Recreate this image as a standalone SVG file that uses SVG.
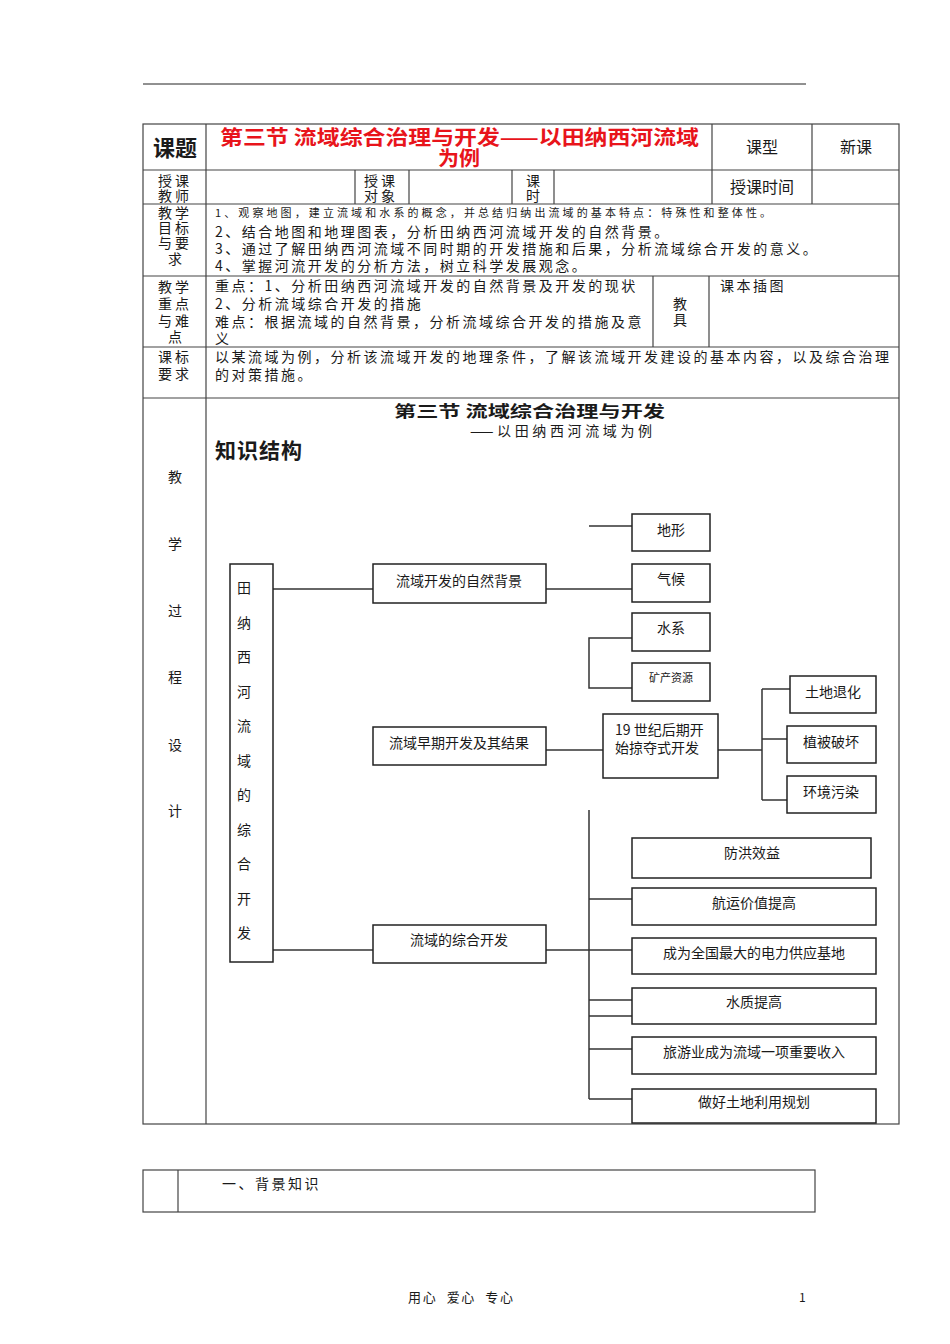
<svg xmlns="http://www.w3.org/2000/svg" width="950" height="1344" viewBox="0 0 950 1344">
<style>
text{font-family:"Noto Sans CJK SC","Liberation Sans",sans-serif;fill:#1a1a1a}
.tl{stroke:#444;stroke-width:1.2;fill:none}
.bx{fill:#fff;stroke:#222;stroke-width:1.5}
.cn{stroke:#333;stroke-width:1.5;fill:none}
.lab{font-size:14px;letter-spacing:3px}
.body{font-size:14px;letter-spacing:2.5px}
.nd{font-size:14px}
.ctr{text-anchor:middle}
</style>
<rect width="950" height="1344" fill="#fff"/>
<line x1="143" y1="84" x2="806" y2="84" stroke="#222" stroke-width="1"/>

<g id="header-table">
<rect class="tl" x="143" y="124" width="756" height="1000"/>
<line class="tl" x1="143" y1="170" x2="899" y2="170"/>
<line class="tl" x1="143" y1="204" x2="899" y2="204"/>
<line class="tl" x1="143" y1="276" x2="899" y2="276"/>
<line class="tl" x1="143" y1="347" x2="899" y2="347"/>
<line class="tl" x1="143" y1="398" x2="899" y2="398"/>
<line class="tl" x1="206" y1="124" x2="206" y2="1124"/>
<line class="tl" x1="712" y1="124" x2="712" y2="204"/>
<line class="tl" x1="812" y1="124" x2="812" y2="204"/>
<line class="tl" x1="355" y1="170" x2="355" y2="204"/>
<line class="tl" x1="409" y1="170" x2="409" y2="204"/>
<line class="tl" x1="512" y1="170" x2="512" y2="204"/>
<line class="tl" x1="554" y1="170" x2="554" y2="204"/>
<line class="tl" x1="653" y1="276" x2="653" y2="347"/>
<line class="tl" x1="709" y1="276" x2="709" y2="347"/>

<text x="153" y="156" font-size="22" font-weight="bold" textLength="44" lengthAdjust="spacingAndGlyphs">课题</text>
<text x="220" y="145" font-size="20" font-weight="bold" style="fill:#e8141b" textLength="479" lengthAdjust="spacingAndGlyphs">第三节  流域综合治理与开发——以田纳西河流域</text>
<text x="438" y="166" font-size="20" font-weight="bold" style="fill:#e8141b" textLength="42" lengthAdjust="spacingAndGlyphs">为例</text>
<text x="762" y="153" class="ctr" font-size="16">课型</text>
<text x="856" y="153" class="ctr" font-size="16">新课</text>

<text x="158" y="186" class="lab">授课</text>
<text x="158" y="201" class="lab">教师</text>
<text x="364" y="186" class="lab">授课</text>
<text x="364" y="201" class="lab">对象</text>
<text x="526" y="186" class="lab">课</text>
<text x="526" y="201" class="lab">时</text>
<text x="762" y="193" class="ctr" font-size="16">授课时间</text>

<text x="158" y="218" class="lab">教学</text>
<text x="158" y="233" class="lab">目标</text>
<text x="158" y="248" class="lab">与要</text>
<text x="168" y="264" class="lab">求</text>
<text x="215" y="217" font-size="11" letter-spacing="3.1">1、观察地图，建立流域和水系的概念，并总结归纳出流域的基本特点：特殊性和整体性。</text>
<text x="215" y="237" class="body">2、结合地图和地理图表，分析田纳西河流域开发的自然背景。</text>
<text x="215" y="254" class="body">3、通过了解田纳西河流域不同时期的开发措施和后果，分析流域综合开发的意义。</text>
<text x="215" y="271" class="body">4、掌握河流开发的分析方法，树立科学发展观念。</text>

<text x="158" y="292" class="lab">教学</text>
<text x="158" y="309" class="lab">重点</text>
<text x="158" y="326" class="lab">与难</text>
<text x="168" y="342" class="lab">点</text>
<text x="215" y="291" class="body">重点：1、分析田纳西河流域开发的自然背景及开发的现状</text>
<text x="215" y="309" class="body">2、分析流域综合开发的措施</text>
<text x="215" y="327" class="body">难点：根据流域的自然背景，分析流域综合开发的措施及意</text>
<text x="215" y="344" class="body">义</text>
<text x="673" y="309" class="lab">教</text>
<text x="673" y="325" class="lab">具</text>
<text x="720" y="291" class="body">课本插图</text>

<text x="158" y="362" class="lab">课标</text>
<text x="158" y="379" class="lab">要求</text>
<text x="215" y="362" class="body">以某流域为例，分析该流域开发的地理条件，了解该流域开发建设的基本内容，以及综合治理</text>
<text x="215" y="380" class="body">的对策措施。</text>

<text x="168" y="482" class="lab">教</text>
<text x="168" y="549" class="lab">学</text>
<text x="168" y="616" class="lab">过</text>
<text x="168" y="682" class="lab">程</text>
<text x="168" y="750" class="lab">设</text>
<text x="168" y="816" class="lab">计</text>

<text x="394" y="417" font-size="16" font-weight="bold" textLength="271" lengthAdjust="spacingAndGlyphs">第三节 流域综合治理与开发</text>
<text x="470" y="436" font-size="14" textLength="182" lengthAdjust="spacing">——以田纳西河流域为例</text>
<text x="215" y="458" font-size="21" font-weight="bold" textLength="87" lengthAdjust="spacing">知识结构</text>
</g>

<g id="connectors">
<path class="cn" d="M273,589 H373"/>
<path class="cn" d="M546,589 H632"/>
<path class="cn" d="M589,526 H632"/>
<path class="cn" d="M632,638 H589 V688 H632"/>
<path class="cn" d="M546,750 H603"/>
<path class="cn" d="M718,750 H762"/>
<path class="cn" d="M762,689 V800"/>
<path class="cn" d="M762,689 H790"/>
<path class="cn" d="M762,739 H787"/>
<path class="cn" d="M762,800 H790"/>
<path class="cn" d="M273,950 H373"/>
<path class="cn" d="M546,950 H632"/>
<path class="cn" d="M589,810 V1099"/>
<path class="cn" d="M589,899 H632"/>
<path class="cn" d="M589,1000 H632"/>
<path class="cn" d="M589,1016 H632"/>
<path class="cn" d="M589,1049 H632"/>
<path class="cn" d="M589,1099 H632"/>
</g>

<g id="node-root">
<rect class="bx" x="230" y="564" width="43" height="398"/>
<text x="237" y="593" font-size="14">田</text>
<text x="237" y="628" font-size="14">纳</text>
<text x="237" y="662" font-size="14">西</text>
<text x="237" y="697" font-size="14">河</text>
<text x="237" y="731" font-size="14">流</text>
<text x="237" y="766" font-size="14">域</text>
<text x="237" y="800" font-size="14">的</text>
<text x="237" y="835" font-size="14">综</text>
<text x="237" y="869" font-size="14">合</text>
<text x="237" y="904" font-size="14">开</text>
<text x="237" y="938" font-size="14">发</text>
</g>

<g id="node-natural">
<rect class="bx" x="373" y="564" width="173" height="39"/>
<text x="459" y="586" class="nd ctr">流域开发的自然背景</text>
</g>
<g id="node-terrain">
<rect class="bx" x="632" y="514" width="78" height="37"/>
<text x="671" y="535" class="nd ctr">地形</text>
</g>
<g id="node-climate">
<rect class="bx" x="632" y="564" width="78" height="38"/>
<text x="671" y="584" class="nd ctr">气候</text>
</g>
<g id="node-water">
<rect class="bx" x="632" y="613" width="78" height="38"/>
<text x="671" y="633" class="nd ctr">水系</text>
</g>
<g id="node-mineral">
<rect class="bx" x="632" y="663" width="78" height="38"/>
<text x="671" y="682" class="ctr" font-size="11">矿产资源</text>
</g>

<g id="node-early">
<rect class="bx" x="373" y="727" width="173" height="38"/>
<text x="459" y="748" class="nd ctr">流域早期开发及其结果</text>
</g>
<g id="node-19c">
<rect class="bx" x="603" y="714" width="115" height="64"/>
<text x="615" y="735" class="nd" font-family="Liberation Sans, Noto Sans CJK SC, sans-serif">19 世纪后期开</text>
<text x="615" y="753" class="nd">始掠夺式开发</text>
</g>
<g id="node-land">
<rect class="bx" x="790" y="676" width="86" height="37"/>
<text x="833" y="697" class="nd ctr">土地退化</text>
</g>
<g id="node-veg">
<rect class="bx" x="787" y="726" width="89" height="37"/>
<text x="831" y="747" class="nd ctr">植被破坏</text>
</g>
<g id="node-pollution">
<rect class="bx" x="787" y="776" width="89" height="37"/>
<text x="831" y="797" class="nd ctr">环境污染</text>
</g>

<g id="node-comprehensive">
<rect class="bx" x="373" y="925" width="173" height="38"/>
<text x="459" y="945" class="nd ctr">流域的综合开发</text>
</g>
<g id="node-flood">
<rect class="bx" x="632" y="838" width="239" height="40"/>
<text x="752" y="858" class="nd ctr">防洪效益</text>
</g>
<g id="node-shipping">
<rect class="bx" x="632" y="888" width="244" height="37"/>
<text x="754" y="908" class="nd ctr">航运价值提高</text>
</g>
<g id="node-power">
<rect class="bx" x="632" y="938" width="244" height="36"/>
<text x="754" y="958" class="nd ctr">成为全国最大的电力供应基地</text>
</g>
<g id="node-quality">
<rect class="bx" x="632" y="988" width="244" height="36"/>
<text x="754" y="1007" class="nd ctr">水质提高</text>
</g>
<g id="node-tourism">
<rect class="bx" x="632" y="1037" width="244" height="37"/>
<text x="754" y="1057" class="nd ctr">旅游业成为流域一项重要收入</text>
</g>
<g id="node-landplan">
<rect class="bx" x="632" y="1089" width="244" height="34"/>
<text x="754" y="1107" class="nd ctr">做好土地利用规划</text>
</g>

<g id="bottom-table">
<rect class="tl" x="143" y="1170" width="672" height="42"/>
<line class="tl" x1="178" y1="1170" x2="178" y2="1212"/>
<text x="222" y="1189" class="body">一、背景知识</text>
</g>

<g id="footer">
<text x="408" y="1302" font-size="13" textLength="105" lengthAdjust="spacing" xml:space="preserve">用心  爱心  专心</text>
<text x="799" y="1302" font-size="12" font-family="Liberation Sans, sans-serif">1</text>
</g>
</svg>
